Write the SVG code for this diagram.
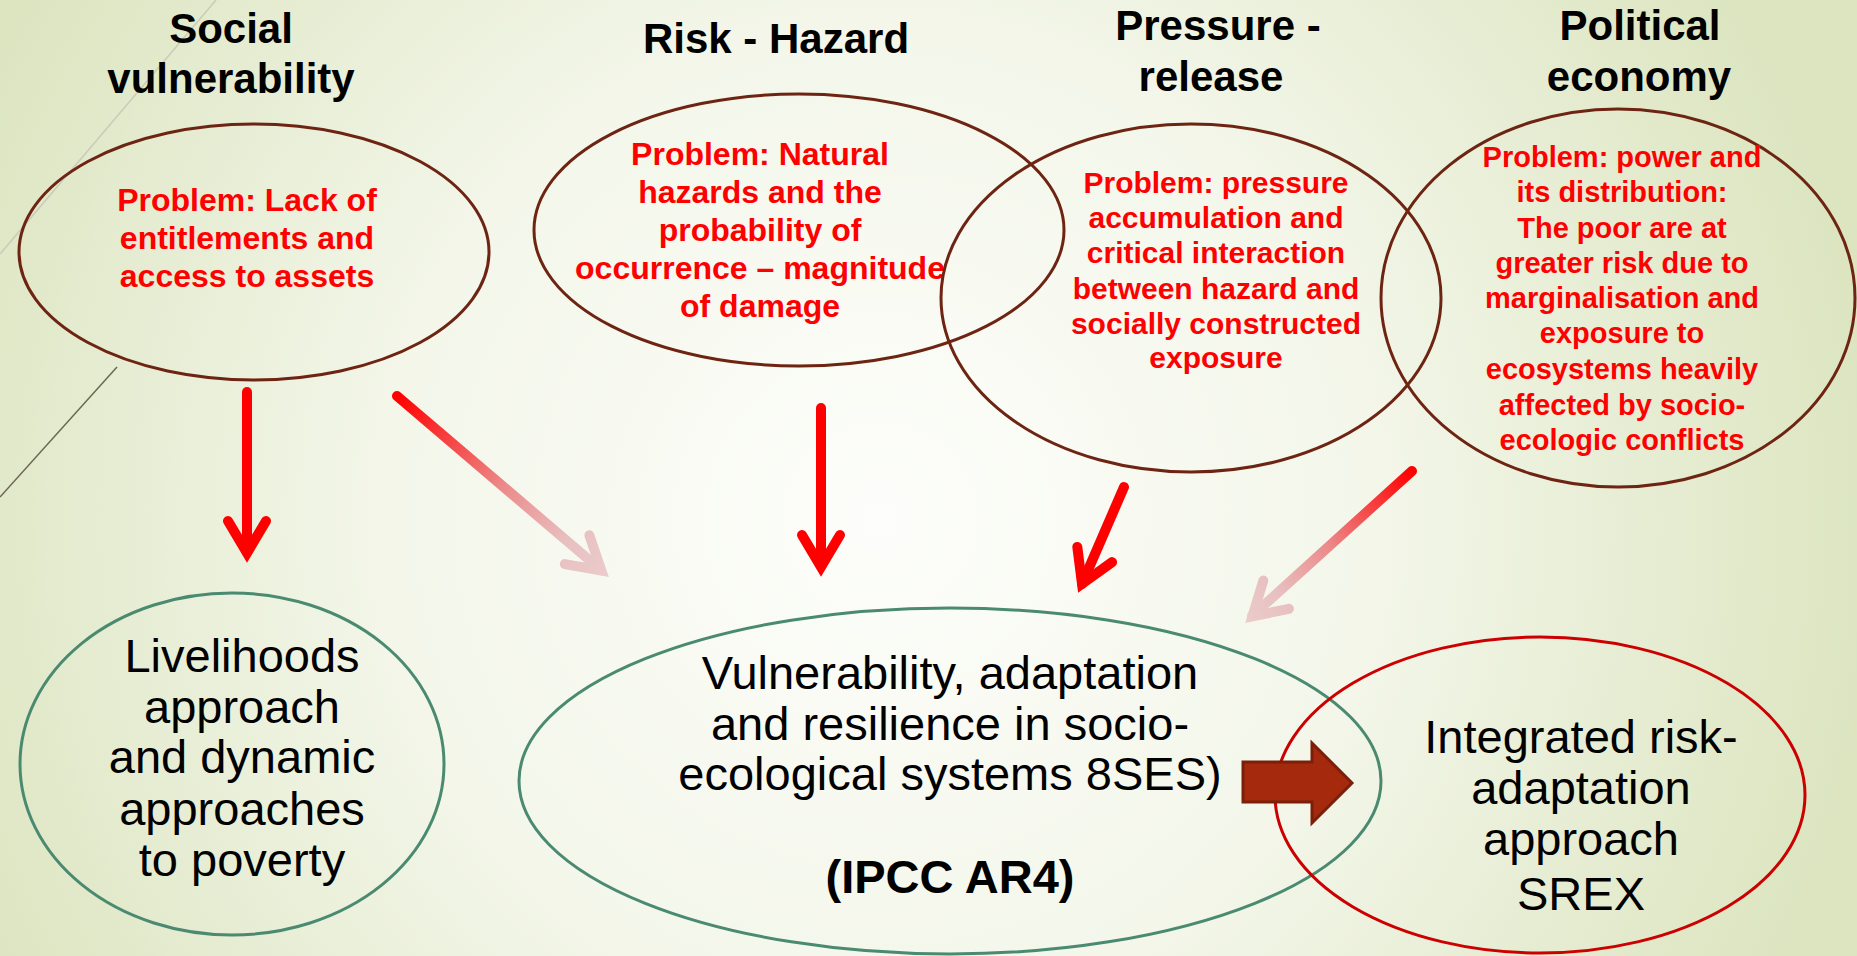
<svg xmlns="http://www.w3.org/2000/svg" width="1857" height="956" viewBox="0 0 1857 956">
<defs>
<radialGradient id="bg" gradientUnits="userSpaceOnUse" cx="880" cy="520" r="1000">
<stop offset="0" stop-color="#fdfefb"/>
<stop offset="0.5" stop-color="#f3f6e9"/>
<stop offset="1" stop-color="#dce5c0"/>
</radialGradient>
<linearGradient id="g2" gradientUnits="userSpaceOnUse" x1="397" y1="396" x2="609" y2="577">
<stop offset="0" stop-color="#ff0000"/>
<stop offset="0.5" stop-color="#ec8a8a"/>
<stop offset="0.8" stop-color="#e8c0c0"/>
<stop offset="1" stop-color="#ebcccc"/>
</linearGradient>
<linearGradient id="g5" gradientUnits="userSpaceOnUse" x1="1412" y1="471" x2="1245" y2="623">
<stop offset="0" stop-color="#ff0000"/>
<stop offset="0.5" stop-color="#ec8a8a"/>
<stop offset="0.8" stop-color="#e8c0c0"/>
<stop offset="1" stop-color="#ebcccc"/>
</linearGradient>
</defs>
<style>
.title{font-family:"Liberation Sans",Arial,sans-serif;font-weight:bold;font-size:42px;fill:#000;text-anchor:middle}
.prob{font-family:"Liberation Sans",Arial,sans-serif;font-weight:bold;fill:#ff0000;text-anchor:middle}
.body{font-family:"Liberation Sans",Arial,sans-serif;font-size:47px;fill:#000;text-anchor:middle}
.top{fill:none;stroke:#6e2412;stroke-width:3}
.green{fill:none;stroke:#4a8a70;stroke-width:3}
.redel{fill:none;stroke:#cc0000;stroke-width:3}
.arr{fill:none;stroke-width:10;stroke-linecap:round;stroke-linejoin:miter;stroke-miterlimit:10}
</style>
<rect x="0" y="0" width="1857" height="956" fill="url(#bg)"/>
<line x1="216" y1="0" x2="0" y2="254" stroke="#cacbba" stroke-width="1.5"/>
<line x1="117" y1="367" x2="0" y2="497" stroke="#6a6650" stroke-width="1.5"/>

<g id="social-vulnerability">
<text class="title" x="231" y="43">Social</text>
<text class="title" x="231" y="93">vulnerability</text>
<ellipse class="top" cx="254" cy="252" rx="235" ry="128"/>
<text class="prob" font-size="32" x="247" y="211">Problem: Lack of</text>
<text class="prob" font-size="32" x="247" y="249">entitlements and</text>
<text class="prob" font-size="32" x="247" y="287">access to assets</text>
</g>

<g id="risk-hazard">
<text class="title" x="776" y="53">Risk - Hazard</text>
<ellipse class="top" cx="799" cy="230" rx="265" ry="136"/>
<text class="prob" font-size="32" x="760" y="165">Problem: Natural</text>
<text class="prob" font-size="32" x="760" y="203">hazards and the</text>
<text class="prob" font-size="32" x="760" y="241">probability of</text>
<text class="prob" font-size="32" x="760" y="279">occurrence – magnitude</text>
<text class="prob" font-size="32" x="760" y="317">of damage</text>
</g>

<g id="pressure-release">
<text class="title" x="1218" y="40">Pressure -</text>
<text class="title" x="1211" y="91">release</text>
<ellipse class="top" cx="1191" cy="298" rx="250" ry="174"/>
<text class="prob" font-size="30" x="1216" y="193">Problem: pressure</text>
<text class="prob" font-size="30" x="1216" y="228">accumulation and</text>
<text class="prob" font-size="30" x="1216" y="263">critical interaction</text>
<text class="prob" font-size="30" x="1216" y="299">between hazard and</text>
<text class="prob" font-size="30" x="1216" y="334">socially constructed</text>
<text class="prob" font-size="30" x="1216" y="368">exposure</text>
</g>

<g id="political-economy">
<text class="title" x="1640" y="40">Political</text>
<text class="title" x="1639" y="91">economy</text>
<ellipse class="top" cx="1618" cy="298" rx="237" ry="189"/>
<text class="prob" font-size="29" x="1622" y="167">Problem: power and</text>
<text class="prob" font-size="29" x="1622" y="202">its distribution:</text>
<text class="prob" font-size="29" x="1622" y="238">The poor are at</text>
<text class="prob" font-size="29" x="1622" y="273">greater risk due to</text>
<text class="prob" font-size="29" x="1622" y="308">marginalisation and</text>
<text class="prob" font-size="29" x="1622" y="343">exposure to</text>
<text class="prob" font-size="29" x="1622" y="379">ecosystems heavily</text>
<text class="prob" font-size="29" x="1622" y="415">affected by socio-</text>
<text class="prob" font-size="29" x="1622" y="450">ecologic conflicts</text>
</g>

<g id="livelihoods">
<ellipse class="green" cx="232" cy="764" rx="212" ry="171"/>
<text class="body" x="242" y="672">Livelihoods</text>
<text class="body" x="242" y="723">approach</text>
<text class="body" x="242" y="773">and dynamic</text>
<text class="body" x="242" y="825">approaches</text>
<text class="body" x="242" y="876">to poverty</text>
</g>

<g id="ses">
<ellipse class="green" cx="950" cy="781" rx="431" ry="173"/>
<text class="body" x="950" y="689">Vulnerability, adaptation</text>
<text class="body" x="950" y="740">and resilience in socio-</text>
<text class="body" x="950" y="790">ecological systems 8SES)</text>
<text class="body" font-weight="bold" font-size="40" x="950" y="893">(IPCC AR4)</text>
</g>

<g id="srex">
<ellipse class="redel" cx="1540" cy="795" rx="265" ry="158"/>
<text class="body" x="1581" y="753">Integrated risk-</text>
<text class="body" x="1581" y="804">adaptation</text>
<text class="body" x="1581" y="855">approach</text>
<text class="body" x="1581" y="910">SREX</text>
</g>

<g id="connectors">
<g stroke="#ff0000" class="arr">
<line x1="247" y1="392" x2="247" y2="552"/>
<path d="M228,521 L247,553 L266,521"/>
</g>
<g stroke="url(#g2)" class="arr">
<line x1="397" y1="396" x2="601" y2="570"/>
<path d="M564.8,564.1 L601.4,570.5 L589.4,535.3"/>
</g>
<g stroke="#ff0000" class="arr">
<line x1="821" y1="408" x2="821" y2="566"/>
<path d="M802,535 L821,567 L840,535"/>
</g>
<g stroke="#ff0000" class="arr">
<line x1="1124" y1="487" x2="1082" y2="584"/>
<path d="M1077.3,546.9 L1082,583.8 L1112.1,562.1"/>
</g>
<g stroke="url(#g5)" class="arr">
<line x1="1412" y1="471" x2="1252" y2="616"/>
<path d="M1263.3,580.6 L1252.4,616.3 L1288.9,608.8"/>
</g>
<polygon points="1243,762 1312,762 1312,743 1352,783 1312,823 1312,802 1243,802" fill="#a52a0d" stroke="#7b1e0a" stroke-width="3" stroke-linejoin="miter"/>
</g>
</svg>
